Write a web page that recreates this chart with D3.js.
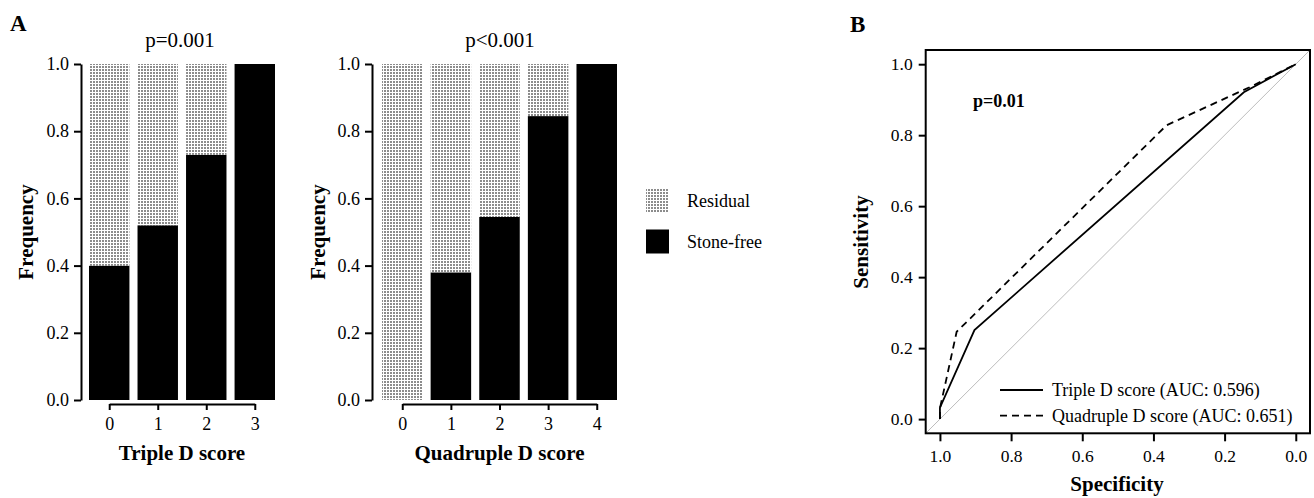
<!DOCTYPE html>
<html>
<head>
<meta charset="utf-8">
<script src="https://cdn.jsdelivr.net/npm/d3@7"></script>
<style>
  body { margin: 0; background: #fff; }
  svg { display: block; font-family: "Liberation Serif", "Times New Roman", serif; }
</style>
</head>
<body>
<div class="chart_container"></div>
<script>
// bar panels (stone-free vs residual per score)
const tripleCats = ["0", "1", "2", "3"];
const tripleStoneFree = [0.40, 0.52, 0.73, 1.00];
const tripleResidual = [0.60, 0.48, 0.27, 0.00];

const quadCats = ["0", "1", "2", "3", "4"];
const quadStoneFree = [0.00, 0.38, 0.545, 0.845, 1.00];
const quadResidual = [1.00, 0.62, 0.455, 0.155, 0.00];

const freqTicks = [0, 0.2, 0.4, 0.6, 0.8, 1.0];
const legendLabels = ["Residual", "Stone-free"];

// ROC panel
const tripleSpec = [1.00, 1.00, 0.903, 0.146, 0.00];
const tripleSens = [0.00, 0.032, 0.251, 0.921, 1.00];
const quadSpec = [1.00, 1.00, 0.953, 0.363, 0.13, 0.00];
const quadSens = [0.00, 0.03, 0.246, 0.828, 0.935, 1.00];
const rocTicks = [0, 0.2, 0.4, 0.6, 0.8, 1.0];
const rocLegend = ["Triple D score (AUC: 0.596)", "Quadruple D score (AUC: 0.651)"];

const W = 1314, H = 498;
const fmt = d3.format(".1f");

const container = document.querySelector('div.chart_container');
container.innerHTML = `<svg id="svgCont" width=${W} height=${H}></svg>`;
const svg = d3.select(container).select('#svgCont');

// stipple pattern for residual
const pat = svg.append('defs').append('pattern')
  .attr('id', 'stipple')
  .attr('patternUnits', 'userSpaceOnUse')
  .attr('width', 3).attr('height', 3);
pat.append('rect').attr('width', 3).attr('height', 3).attr('fill', '#fff');
pat.append('rect').attr('width', 2).attr('height', 2).attr('fill', '#8c8c8c');

const fills = { residual: 'url(#stipple)', stoneFree: '#000' };

function styleAxis(g, size) {
  g.selectAll('path.domain').attr('stroke', '#000').attr('stroke-width', 2);
  g.selectAll('.tick line').attr('stroke', '#000').attr('stroke-width', 2);
  g.selectAll('.tick text')
    .attr('font-family', '"Liberation Serif", serif')
    .attr('font-size', size).attr('fill', '#000');
}

function drawBars(opts) {
  const { cats, stoneFree, residual, axisX, x0, x1, title, titleX, xLabel, yLabelX } = opts;
  const yScale = d3.scaleLinear().domain([0, 1]).range([400, 64]);
  const xScale = d3.scaleBand().domain(cats).range([x0, x1])
    .paddingInner(0.2 / 1.2).paddingOuter(0);
  const bw = xScale.bandwidth();

  const rows = cats.map((c, i) => ({ cat: c, stoneFree: stoneFree[i], residual: residual[i] }));
  const stack = d3.stack().keys(['stoneFree', 'residual'])(rows);

  const g = svg.append('g');
  g.selectAll('g.layer')
    .data(stack).enter().append('g')
    .attr('fill', (d) => fills[d.key])
    .selectAll('rect')
    .data((d) => d).enter().append('rect')
    .attr('x', (d) => xScale(d.data.cat))
    .attr('y', (d) => yScale(d[1]))
    .attr('width', bw)
    .attr('height', (d) => yScale(d[0]) - yScale(d[1]));

  // y axis
  const ya = g.append('g')
    .attr('transform', `translate(${axisX},0)`)
    .call(d3.axisLeft(yScale).tickValues(freqTicks).tickFormat(fmt).tickSize(7).tickSizeOuter(0).tickPadding(5));
  styleAxis(ya, 18);

  // x axis from first to last bar centre
  const xp = d3.scalePoint().domain(cats)
    .range([xScale(cats[0]) + bw / 2, xScale(cats[cats.length - 1]) + bw / 2]);
  const xa = g.append('g')
    .attr('transform', 'translate(0,404)')
    .call(d3.axisBottom(xp).tickSize(6).tickSizeOuter(0).tickPadding(7));
  styleAxis(xa, 18);

  g.append('text').attr('x', titleX).attr('y', 47)
    .attr('text-anchor', 'middle').attr('font-size', 21).text(title);
  g.append('text').attr('x', (x0 + x1) / 2).attr('y', 460)
    .attr('text-anchor', 'middle').attr('font-size', 21).attr('font-weight', 'bold').text(xLabel);
  g.append('text')
    .attr('transform', `translate(${yLabelX},232) rotate(-90)`)
    .attr('text-anchor', 'middle').attr('font-size', 21).attr('font-weight', 'bold').text('Frequency');
}

drawBars({
  cats: tripleCats, stoneFree: tripleStoneFree, residual: tripleResidual,
  axisX: 81, x0: 89, x1: 275, title: 'p=0.001', titleX: 180,
  xLabel: 'Triple D score', yLabelX: 33
});
drawBars({
  cats: quadCats, stoneFree: quadStoneFree, residual: quadResidual,
  axisX: 372, x0: 382, x1: 617, title: 'p<0.001', titleX: 500,
  xLabel: 'Quadruple D score', yLabelX: 325
});

// legend for bars
const leg = svg.append('g');
const legY = d3.scalePoint().domain(legendLabels).range([188.5, 229.5]);
leg.selectAll('rect').data(legendLabels).enter().append('rect')
  .attr('x', 646).attr('y', (d) => legY(d))
  .attr('width', 23).attr('height', 24)
  .attr('fill', (d, i) => i === 0 ? fills.residual : fills.stoneFree);
leg.selectAll('text').data(legendLabels).enter().append('text')
  .attr('x', 687).attr('y', (d) => legY(d) + 18)
  .attr('font-size', 18).text((d) => d);

// panel letters
svg.append('text').attr('x', 10).attr('y', 31).attr('font-size', 23).attr('font-weight', 'bold').text('A');
svg.append('text').attr('x', 850).attr('y', 32).attr('font-size', 23).attr('font-weight', 'bold').text('B');

// ROC panel
const rx = d3.scaleLinear().domain([1.04, -0.04]).range([925.7, 1310]);
const ry = d3.scaleLinear().domain([-0.04, 1.04]).range([433.3, 50]);
const roc = svg.append('g');

roc.append('line')
  .attr('x1', rx(1.04)).attr('y1', ry(-0.04))
  .attr('x2', rx(-0.04)).attr('y2', ry(1.04))
  .attr('stroke', '#bdbdbd').attr('stroke-width', 1);

const line = d3.line().x((d) => rx(d[0])).y((d) => ry(d[1]));
const curves = [
  { pts: d3.zip(tripleSpec, tripleSens), dash: null },
  { pts: d3.zip(quadSpec, quadSens), dash: '7,5' }
];
roc.selectAll('path.curve').data(curves).enter().append('path')
  .attr('class', 'curve')
  .attr('d', (d) => line(d.pts))
  .attr('fill', 'none').attr('stroke', '#000').attr('stroke-width', 1.8)
  .attr('stroke-dasharray', (d) => d.dash);

roc.append('rect')
  .attr('x', rx(1.04)).attr('y', ry(1.04))
  .attr('width', rx(-0.04) - rx(1.04)).attr('height', ry(-0.04) - ry(1.04))
  .attr('fill', 'none').attr('stroke', '#000').attr('stroke-width', 2);

const rya = roc.append('g').attr('transform', `translate(${rx(1.04)},0)`)
  .call(d3.axisLeft(ry).tickValues(rocTicks).tickFormat(fmt).tickSize(7).tickSizeOuter(0).tickPadding(6));
rya.select('path.domain').remove();
styleAxis(rya, 17.5);

const rxa = roc.append('g').attr('transform', `translate(0,${ry(-0.04)})`)
  .call(d3.axisBottom(rx).tickValues(rocTicks).tickFormat(fmt).tickSize(8).tickSizeOuter(0).tickPadding(8));
rxa.select('path.domain').remove();
styleAxis(rxa, 17.5);

roc.append('text').attr('x', 973).attr('y', 107)
  .attr('font-size', 18).attr('font-weight', 'bold').text('p=0.01');
roc.append('text').attr('x', 1117).attr('y', 491)
  .attr('text-anchor', 'middle').attr('font-size', 21).attr('font-weight', 'bold').text('Specificity');
roc.append('text')
  .attr('transform', 'translate(868,242) rotate(-90)')
  .attr('text-anchor', 'middle').attr('font-size', 21).attr('font-weight', 'bold').text('Sensitivity');

// ROC legend
const rl = svg.append('g');
const rlY = d3.scalePoint().domain(rocLegend).range([390, 415.7]);
rl.selectAll('line').data(rocLegend).enter().append('line')
  .attr('x1', 1000).attr('x2', 1043)
  .attr('y1', (d) => rlY(d)).attr('y2', (d) => rlY(d))
  .attr('stroke', '#000').attr('stroke-width', 1.8)
  .attr('stroke-dasharray', (d, i) => curves[i].dash);
rl.selectAll('text').data(rocLegend).enter().append('text')
  .attr('x', 1052).attr('y', (d) => rlY(d) + 6)
  .attr('font-size', 18).text((d) => d);
</script>
</body>
</html>
